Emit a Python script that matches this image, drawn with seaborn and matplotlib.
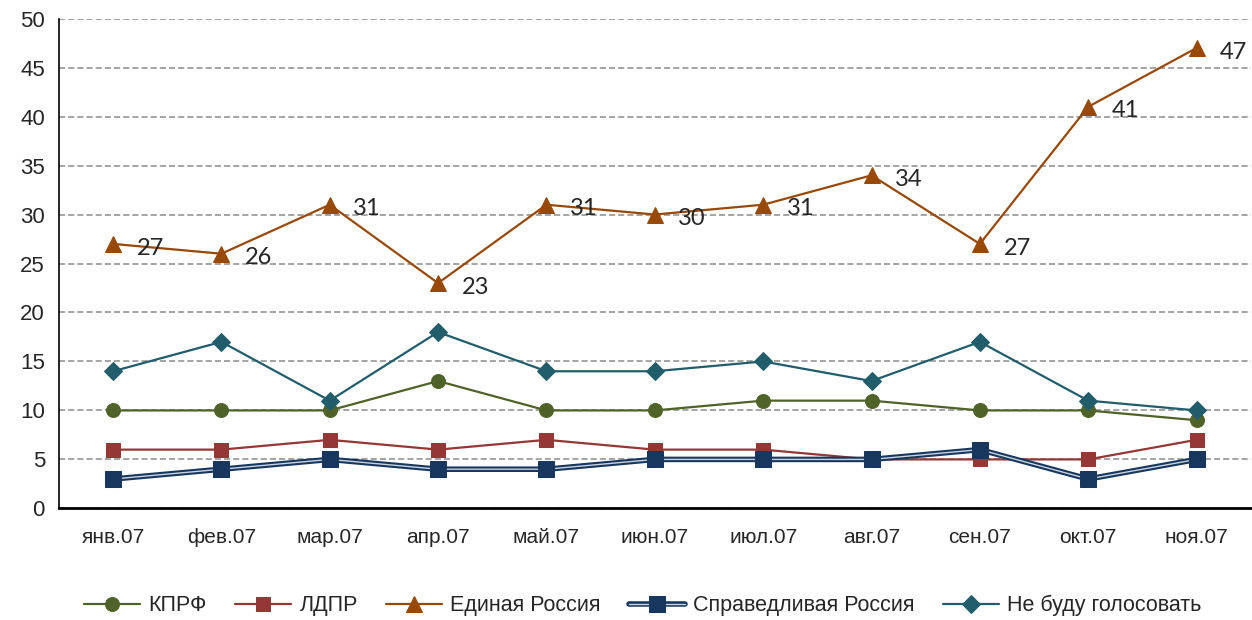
import matplotlib
matplotlib.use("Agg")
import matplotlib.pyplot as plt
import matplotlib.patheffects as pe
import pandas as pd
import seaborn as sns

# Данные (с картинки)
months = ["янв.07", "фев.07", "мар.07", "апр.07", "май.07", "июн.07",
          "июл.07", "авг.07", "сен.07", "окт.07", "ноя.07"]
kprf = [10, 10, 10, 13, 10, 10, 11, 11, 10, 10, 9]
ldpr = [6, 6, 7, 6, 7, 6, 6, 5, 5, 5, 7]
er = [27, 26, 31, 23, 31, 30, 31, 34, 27, 41, 47]
sr = [3, 4, 5, 4, 4, 5, 5, 5, 6, 3, 5]
ne_budu = [14, 17, 11, 18, 14, 14, 15, 13, 17, 11, 10]

series = ["КПРФ", "ЛДПР", "Единая Россия", "Справедливая Россия", "Не буду голосовать"]
values = [kprf, ldpr, er, sr, ne_budu]
colors = ["#4F6228", "#953735", "#984807", "#17375E", "#215D6B"]
markers = ["o", "s", "^", "s", "D"]
msizes = [10, 10, 11, 11, 9]

sns.set_style("white")
plt.rcParams["font.family"] = ["Liberation Sans", "DejaVu Sans"]

fig, ax = plt.subplots(figsize=(12.52, 6.2), dpi=100)
fig.subplots_adjust(left=0.047, right=0.999, top=0.97, bottom=0.18)

x = list(range(len(months)))
handles = []
for name, vals, c, m, ms in zip(series, values, colors, markers, msizes):
    df = pd.DataFrame({"x": x, "y": vals})
    if name == "Справедливая Россия":
        # двойная линия: тёмная обводка + светлая середина, маркеры отдельно
        sns.lineplot(data=df, x="x", y="y", ax=ax, color="#C9D3E0", linewidth=1.0,
                     zorder=3, legend=False)
        ln = ax.get_lines()[-1]
        ln.set_path_effects([pe.Stroke(linewidth=4, foreground=c), pe.Normal()])
        sns.lineplot(data=df, x="x", y="y", ax=ax, color=c, marker=m, markersize=ms,
                     markeredgecolor=c, linestyle="none", zorder=4, legend=False)
        mk = ax.get_lines()[-1]
        handles.append((ln, mk))
    else:
        sns.lineplot(data=df, x="x", y="y", ax=ax, color=c, marker=m, markersize=ms,
                     markeredgecolor=c, linewidth=1.6, zorder=3, legend=False)
        handles.append(ax.get_lines()[-1])

# Подписи значений для Единой России
for i, v in enumerate(er):
    ax.annotate(str(v), (i, v), xytext=(17, -3), textcoords="offset points",
                fontsize=17, va="center", ha="left", family=["Lato", "DejaVu Sans"])

ax.set_xlim(-0.5, len(months) - 0.5)
ax.set_ylim(0, 50)
ax.set_yticks(range(0, 51, 5))
ax.set_xticks(x)
ax.set_xticklabels(months)
ax.set_xticks([i - 0.5 for i in range(len(months) + 1)], minor=True)
ax.tick_params(axis="x", which="major", length=0, labelsize=15, pad=14)
ax.tick_params(axis="x", which="minor", length=6, width=1, direction="out", color="black")
ax.tick_params(axis="y", length=6, width=1, direction="out", labelsize=16, color="black", pad=4)
ax.set_xlabel("")
ax.set_ylabel("")

ax.yaxis.grid(True, linestyle=(0, (4, 2)), color="#8C8C8C", linewidth=1.1)
ax.set_axisbelow(True)
for s in ["top", "right"]:
    ax.spines[s].set_visible(False)
ax.spines["left"].set_color("black")
ax.spines["left"].set_linewidth(1.2)
ax.spines["bottom"].set_color("black")
ax.spines["bottom"].set_linewidth(2)

ax.legend(handles, series, loc="lower center", bbox_to_anchor=(0.49, -0.26), ncol=5,
          frameon=False, handlelength=2.6, columnspacing=1.3, handletextpad=0.4,
          fontsize=15.5)

plt.savefig("out.png", dpi=100)
